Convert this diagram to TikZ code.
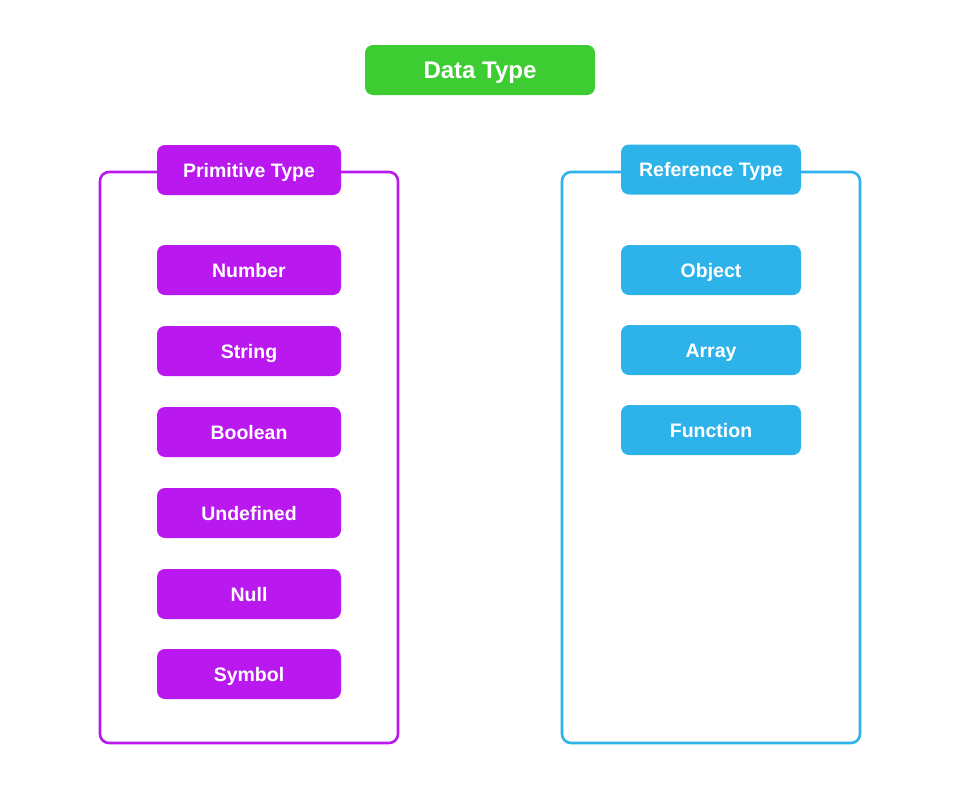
\documentclass[tikz,border=0pt]{standalone}
\usepackage{fontspec}
\setmainfont{Liberation Sans}
\definecolor{dtgreen}{HTML}{3DCD32}
\definecolor{dtpurple}{HTML}{B918EE}
\definecolor{dtblue}{HTML}{2DB2EA}
\begin{document}
\begin{tikzpicture}[x=1pt,y=-1pt,
  box/.style={rounded corners=8pt, inner sep=0pt, text=white, font=\bfseries\fontsize{19.5}{23}\selectfont, minimum height=50pt, text height=14pt, text depth=0pt},
  pbox/.style={box, fill=dtpurple, minimum width=184pt},
  rbox/.style={box, fill=dtblue, minimum width=180pt},
  frame/.style={rounded corners=9pt, line width=2.6pt, minimum width=298pt, minimum height=571pt, inner sep=0pt}]
\useasboundingbox (0,0) rectangle (960,790);
\fill[white] (0,0) rectangle (960,790);
\node[box, fill=dtgreen, minimum width=230pt, font=\bfseries\fontsize{24}{28}\selectfont, text height=17.2pt] (dt) at (480,70) {Data Type};
\node[frame, draw=dtpurple] (pframe) at (249,457.5) {};
\node[frame, draw=dtblue] (rframe) at (711,457.5) {};
\node[pbox] (prim) at (249,170) {Primitive Type};
\node[rbox] (ref) at (711,169.5) {Reference Type};
\node[pbox] (num) at (249,270) {Number};
\node[pbox] (str) at (249,351) {String};
\node[pbox] (bool) at (249,432) {Boolean};
\node[pbox] (undef) at (249,513) {Undefined};
\node[pbox] (null) at (249,594) {Null};
\node[pbox] (sym) at (249,674) {Symbol};
\node[rbox] (obj) at (711,270) {Object};
\node[rbox] (arr) at (711,350) {Array};
\node[rbox] (fun) at (711,430) {Function};
\end{tikzpicture}
\end{document}
